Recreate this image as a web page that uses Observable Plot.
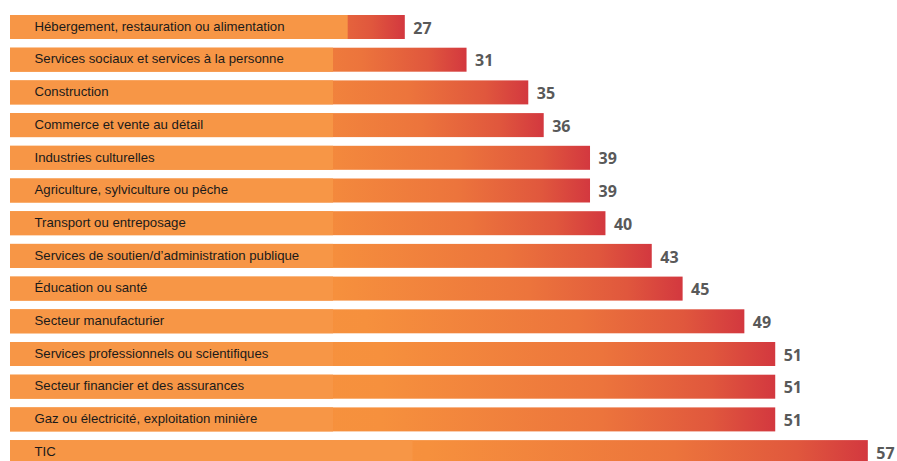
<!DOCTYPE html>
<html>
<head>
<meta charset="utf-8">
<script src="https://cdn.jsdelivr.net/npm/d3@7"></script>
<script src="https://cdn.jsdelivr.net/npm/@observablehq/plot@0.6"></script>
<style>
  html, body { margin: 0; padding: 0; background: #fff; overflow: hidden; }
  #chart svg { display: block; }
</style>
</head>
<body>
<div id="chart"></div>
<script>
const categories = [
  "Hébergement, restauration ou alimentation",
  "Services sociaux et services à la personne",
  "Construction",
  "Commerce et vente au détail",
  "Industries culturelles",
  "Agriculture, sylviculture ou pêche",
  "Transport ou entreposage",
  "Services de soutien/d’administration publique",
  "Éducation ou santé",
  "Secteur manufacturier",
  "Services professionnels ou scientifiques",
  "Secteur financier et des assurances",
  "Gaz ou électricité, exploitation minière",
  "TIC"
];
const values = [27, 31, 35, 36, 39, 39, 40, 43, 45, 49, 51, 51, 51, 57];

const data = categories.map((label, i) => ({label, value: values[i]}));

// end of the flat label box drawn over each bar (in x-scale units)
const boxEnd = (d, i) => i === 0 ? 23.3 : (d.label === "TIC" ? 27.5 : 22.35);

const chart = Plot.plot({
  width: 897,
  height: 461,
  marginLeft: 10,
  marginRight: 0,
  marginTop: 0,
  marginBottom: 0,
  style: {background: "#fff", overflow: "hidden"},
  x: {domain: [1.42, 58.89], axis: null},
  y: {domain: categories, range: [6.3, 472.8], padding: 0.266, round: false, axis: null},
  marks: [
    Plot.barX(data, {x1: 0, x2: "value", y: "label", fill: "url(#barGrad)", clip: true}),
    Plot.barX(data, {x1: 0, x2: boxEnd, y: "label", fill: "#f79646", clip: true}),
    Plot.text(data, {
      y: "label", text: "label", frameAnchor: "left", dx: 24, dy: -1,
      textAnchor: "start", fill: "#1a1a1a", fontSize: 13.2,
      fontFamily: "Liberation Sans, Arial, sans-serif"
    }),
    Plot.text(data, {
      x: "value", y: "label", text: d => String(d.value), dx: 8, dy: 1,
      textAnchor: "start", fill: "#595959", fontSize: 16, fontWeight: 700,
      fontFamily: "Open Sans, sans-serif"
    })
  ]
});

const svg = d3.select(chart);
const defs = svg.insert("defs", ":first-child");
const grad = defs.append("linearGradient")
  .attr("id", "barGrad").attr("x1", "0").attr("x2", "1").attr("y1", "0").attr("y2", "0");
[[0, "#f8983f"], [0.5, "#f6903d"], [0.78, "#ec743c"], [0.92, "#e0573d"], [1, "#d3383f"]]
  .forEach(([o, c]) => grad.append("stop").attr("offset", o).attr("stop-color", c));

document.getElementById("chart").appendChild(chart);
</script>
</body>
</html>
